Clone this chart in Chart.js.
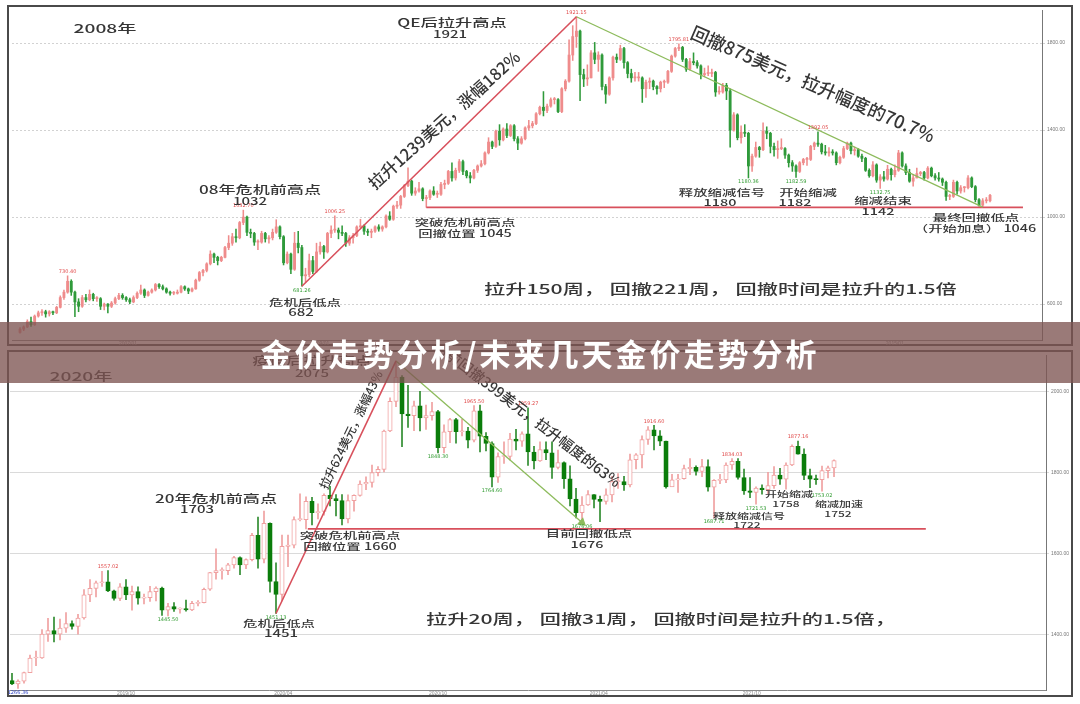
<!DOCTYPE html>
<html>
<head>
<meta charset="utf-8">
<script src="https://cdn.jsdelivr.net/npm/chart.js"></script>
<style>
  body { margin: 0; width: 1080px; height: 704px; background: #fff; position: relative; overflow: hidden; }
  .frame { position: absolute; border: 2px solid #4a4a4a; box-sizing: border-box; }
  canvas { position: absolute; left: 0; }
  .banner {
    position: absolute; left: 0; top: 322px; width: 1080px; height: 61px;
    background: rgba(125, 85, 82, 0.78); color: #fff;
    font: 700 31px "Noto Sans CJK SC"; letter-spacing: 3px;
    text-align: center; line-height: 61px; z-index: 5;
  }
</style>
</head>
<body>
<div class="frame" style="left:7px;top:5px;width:1066px;height:341px"></div>
<div class="frame" style="left:7px;top:350px;width:1066px;height:347px"></div>
<canvas id="top" width="1080" height="348" style="top:0"></canvas>
<canvas id="bottom" width="1080" height="350" style="top:350px"></canvas>
<div class="banner">金价走势分析/未来几天金价走势分析</div>

<script>
// 2005-2016 gold, two-week bars (open = previous close)
const TOP_FIRST_OPEN = 470;
const topClose = [485,495,520,505,545,560,565,555,565,560,
585,630,655,705,655,610,590,630,620,645,
625,625,590,600,590,605,625,640,630,620,
610,630,650,665,640,655,665,690,680,670,
655,650,650,655,680,670,660,670,710,745,
755,785,830,815,800,815,860,880,910,905,
975,1000,930,925,885,885,925,900,905,930,
955,910,790,830,760,880,860,730,735,800,
750,840,865,840,925,940,940,930,925,880,
905,915,955,960,935,930,935,955,945,955,
1005,990,1050,1055,1095,1145,1165,1110,1120,1130,
1085,1090,1120,1105,1105,1150,1155,1210,1180,1215,
1255,1210,1190,1180,1215,1235,1245,1295,1345,1325,
1395,1355,1405,1375,1420,1360,1340,1360,1410,1420,
1430,1475,1505,1490,1510,1540,1540,1485,1590,1625,
1745,1830,1855,1655,1635,1640,1755,1725,1745,1600,
1565,1640,1735,1725,1775,1710,1660,1640,1640,1640,
1590,1620,1625,1600,1590,1620,1620,1670,1740,1775,
1780,1725,1680,1715,1710,1695,1655,1660,1660,1665,
1575,1575,1605,1580,1400,1470,1365,1390,1385,1235,
1280,1320,1310,1395,1385,1325,1310,1315,1315,1285,
1250,1235,1210,1250,1265,1265,1325,1340,1335,1300,
1295,1300,1295,1250,1275,1315,1340,1305,1310,1280,
1270,1215,1190,1240,1170,1185,1175,1220,1195,1215,
1295,1235,1205,1165,1180,1200,1205,1180,1225,1190,
1180,1175,1160,1095,1095,1160,1120,1135,1135,1180,
1140,1080,1055,1075,1075,1100];
const topHigh = [492,500,528,540,550,568,575,572,570,568,
590,638,665,730,712,660,625,640,645,665,
650,635,630,605,602,612,632,650,648,635,
628,638,656,688,670,660,670,695,694,688,
675,660,658,665,685,684,674,675,715,750,
760,790,845,835,820,820,866,915,925,945,
980,1032,1005,945,930,895,935,930,915,945,
988,960,915,840,835,930,935,870,765,830,
820,880,885,870,930,960,1006,950,960,930,
915,925,960,990,965,945,945,960,965,960,
1010,1025,1055,1072,1100,1150,1227,1170,1135,1160,
1135,1100,1125,1140,1120,1160,1170,1215,1250,1225,
1265,1262,1215,1205,1220,1240,1260,1300,1365,1350,
1400,1425,1410,1430,1425,1425,1370,1370,1415,1445,
1440,1480,1510,1577,1520,1548,1550,1545,1595,1632,
1815,1880,1921,1860,1680,1700,1765,1803,1760,1750,
1610,1645,1740,1750,1790,1780,1715,1680,1665,1665,
1645,1630,1640,1630,1605,1625,1630,1675,1745,1780,
1796,1785,1730,1730,1755,1720,1700,1685,1695,1680,
1670,1600,1615,1615,1590,1480,1475,1420,1425,1390,
1290,1345,1325,1433,1415,1390,1340,1350,1360,1320,
1290,1260,1240,1255,1270,1275,1330,1345,1392,1340,
1330,1320,1310,1300,1280,1325,1345,1345,1322,1315,
1290,1275,1222,1255,1245,1195,1210,1238,1225,1240,
1307,1300,1245,1220,1195,1225,1210,1210,1232,1230,
1200,1205,1180,1165,1105,1170,1165,1145,1140,1191,
1185,1145,1085,1085,1090,1105];
const topLow = [466,478,492,498,502,540,548,540,545,552,
556,582,622,650,640,542,565,585,610,615,
615,612,575,573,560,584,600,620,622,612,
602,606,625,645,630,636,650,660,672,665,
650,641,643,646,652,663,648,656,668,705,
730,748,780,790,780,795,812,850,870,885,
900,965,915,905,870,850,880,885,880,895,
925,900,780,785,740,755,835,682,700,725,
740,745,830,810,835,905,930,900,915,865,
870,880,910,950,920,915,905,930,935,935,
950,985,985,1040,1040,1090,1140,1100,1100,1115,
1075,1045,1080,1100,1090,1100,1130,1150,1165,1170,
1205,1195,1180,1157,1175,1205,1230,1240,1290,1315,
1320,1330,1350,1365,1370,1350,1310,1335,1355,1400,
1410,1425,1470,1465,1480,1505,1520,1480,1480,1580,
1620,1720,1780,1535,1600,1605,1640,1705,1670,1585,
1523,1560,1630,1710,1720,1685,1640,1620,1625,1625,
1527,1550,1590,1585,1565,1575,1595,1615,1665,1735,
1765,1715,1670,1675,1700,1685,1635,1645,1650,1645,
1555,1565,1570,1540,1321,1395,1355,1340,1370,1180,
1210,1275,1275,1305,1360,1295,1280,1270,1310,1270,
1230,1210,1182,1205,1240,1238,1260,1310,1325,1290,
1285,1280,1285,1240,1245,1270,1310,1290,1285,1275,
1255,1210,1183,1185,1160,1132,1165,1170,1170,1185,
1210,1230,1195,1160,1142,1180,1190,1170,1175,1185,
1170,1165,1145,1077,1080,1090,1105,1110,1115,1130,
1135,1070,1050,1046,1065,1070];
const topPivots = [77, 152, 263];          // 682 low, 1921 high, 1046 low
const topSupport = { from: 111, to: 274, price: 1045 };
const topYTicks = [600, 1000, 1400, 1800];
const topXTickPos = [29.5, 82, 134.5, 186.5, 239];
const topXTickLabels = ['2007/01', '2009/01', '2011/01', '2013/01', '2015/01'];

// 2019-2021 gold, weekly bars
const BOTTOM_FIRST_OPEN = 1285;
const bottomClose = [1277,1284,1305,1341,1341,1400,1409,1400,1415,1426,
1419,1440,1497,1513,1527,1529,1507,1488,1517,1497,
1505,1489,1490,1505,1514,1459,1468,1462,1463,1460,
1476,1478,1511,1552,1557,1557,1571,1589,1571,1584,
1644,1585,1674,1530,1498,1617,1620,1683,1683,1728,
1700,1703,1743,1735,1730,1685,1730,1743,1771,1775,
1799,1807,1902,1975,2035,1944,1940,1964,1934,1940,
1950,1861,1900,1930,1900,1902,1879,1952,1889,1871,
1788,1839,1839,1882,1877,1895,1850,1828,1856,1848,
1812,1824,1784,1734,1700,1719,1745,1733,1728,1744,
1777,1777,1769,1831,1843,1881,1905,1890,1877,1764,
1781,1784,1809,1812,1802,1814,1763,1780,1781,1818,
1827,1787,1754,1750,1761,1757,1767,1793,1783,1818,
1864,1845,1792,1783,1782,1804,1811,1829];
const bottomHigh = [1303,1287,1306,1348,1358,1411,1439,1442,1437,1453,
1433,1449,1510,1535,1531,1555,1557,1509,1525,1535,
1519,1517,1499,1518,1517,1516,1476,1478,1465,1484,
1481,1483,1514,1553,1611,1564,1575,1592,1591,1586,
1649,1689,1704,1675,1576,1645,1645,1690,1747,1739,
1738,1722,1747,1765,1745,1745,1744,1744,1779,1789,
1818,1814,1904,1984,2075,2039,2015,1976,2000,1966,
1973,1953,1917,1933,1933,1931,1911,1965,1966,1898,
1875,1848,1875,1896,1906,1900,1959,1864,1875,1875,
1875,1855,1826,1816,1760,1740,1755,1745,1741,1759,
1790,1797,1790,1845,1846,1890,1913,1916,1903,1877,
1795,1795,1818,1834,1816,1832,1831,1782,1795,1823,
1834,1834,1808,1787,1764,1769,1800,1814,1810,1823,
1868,1877,1858,1808,1793,1815,1815,1831];
const bottomLow = [1275,1266,1279,1305,1322,1340,1382,1381,1386,1404,
1412,1400,1437,1480,1492,1518,1505,1484,1483,1485,
1459,1474,1475,1481,1482,1446,1445,1456,1452,1457,
1458,1470,1477,1508,1536,1536,1547,1563,1547,1562,
1581,1563,1576,1504,1451,1482,1567,1613,1680,1660,
1670,1685,1694,1717,1692,1670,1675,1704,1741,1757,
1763,1791,1801,1900,1962,1863,1911,1903,1902,1906,
1929,1848,1848,1873,1872,1890,1860,1875,1850,1853,
1764,1775,1822,1830,1855,1864,1817,1808,1827,1831,
1785,1808,1760,1717,1687,1676,1718,1712,1678,1721,
1727,1760,1755,1764,1808,1811,1869,1855,1866,1761,
1769,1750,1783,1794,1793,1789,1753,1687,1772,1774,
1807,1783,1745,1737,1721,1746,1747,1760,1770,1758,
1816,1845,1782,1762,1770,1753,1786,1789];
const bottomPivots = [44, 64, 95];        // 1451 low, 2075 high, 1676 low
const bottomSupport = { from: 49.3, to: 152.3, price: 1660 };
const bottomYTicks = [1400, 1600, 1800, 2000];
const bottomXTickPos = [19, 45.2, 71, 97.8, 123.3];
const bottomXTickLabels = ['2019/10', '2020/04', '2020/10', '2021/04', '2021/10'];

const RED = '#d8505c', GREEN = '#8dbb5c', TAGRED = '#e04848', TAGGREEN = '#2e9a2e';

function opensOf(first, closes) {
  return closes.map((c, i) => i === 0 ? first : closes[i - 1]);
}

function candleSets(opens, closes, highs, lows, st) {
  const up = closes.map((c, i) => c >= opens[i]);
  return [
    { type: 'bar', order: 2, grouped: false, barThickness: st.wick,
      data: lows.map((l, i) => ({ x: i, y: [l, highs[i]] })),
      backgroundColor: up.map(u => u ? st.upWick : st.downWick) },
    { type: 'bar', order: 1, grouped: false, barThickness: st.body, minBarLength: 1,
      borderSkipped: false, borderWidth: st.border,
      data: closes.map((c, i) => ({ x: i, y: [opens[i], c] })),
      backgroundColor: up.map(u => u ? st.upFill : st.downFill),
      borderColor: up.map(u => u ? st.upWick : st.downFill) }
  ];
}

function lineSet(points, color, width, extra) {
  return Object.assign({ type: 'line', order: 0, data: points, borderColor: color,
    borderWidth: width, pointRadius: 0, fill: false, tension: 0 }, extra || {});
}

function notesPlugin(items, tags) {
  return {
    id: 'notes',
    afterDatasetsDraw(chart) {
      const ctx = chart.ctx, xs = chart.scales.x, ys = chart.scales.y;
      tags.forEach(t => {
        ctx.save();
        ctx.font = '5px "DejaVu Sans"';
        ctx.fillStyle = t.color;
        ctx.textAlign = 'center';
        ctx.textBaseline = 'middle';
        ctx.fillText(t.text, xs.getPixelForValue(t.x), ys.getPixelForValue(t.y) + t.dy);
        ctx.restore();
      });
      items.forEach(n => {
        ctx.save();
        ctx.translate(n.x, n.y);
        ctx.rotate((n.angle || 0) * Math.PI / 180);
        ctx.scale(n.sx || 1, 1);
        ctx.font = '500 ' + (n.size || 9.6) + 'px "Noto Sans CJK SC"';
        ctx.fillStyle = '#363636';
        ctx.textAlign = n.align || 'center';
        ctx.textBaseline = 'middle';
        ctx.fillText(n.text, 0, 0);
        ctx.restore();
      });
    }
  };
}

function axes(cfg) {
  return {
    x: { type: 'linear', min: cfg.xMin, max: cfg.xMax, offset: false,
      grid: { display: false, drawTicks: false },
      border: { display: true, color: '#888' },
      afterBuildTicks: a => { a.ticks = cfg.xTicks.map(v => ({ value: v })); },
      afterFit: a => { a.height = cfg.xH; },
      ticks: { font: { size: 5 }, color: '#888', padding: 1, maxRotation: 0, autoSkip: false,
        callback: (v, i) => cfg.xLabels[i] } },
    y: { position: 'right', min: cfg.yMin, max: cfg.yMax,
      grid: { color: cfg.gridColor, tickLength: 3 },
      border: { display: true, color: '#777', dash: cfg.dash },
      afterBuildTicks: a => { a.ticks = cfg.yTicks.map(v => ({ value: v })); },
      afterFit: a => { a.width = cfg.yW; },
      ticks: { font: { size: 5 }, color: '#777', padding: 2, callback: v => v.toFixed(2) } }
  };
}

const baseOpts = {
  responsive: false, devicePixelRatio: 1, animation: false, events: [],
  plugins: { legend: { display: false }, tooltip: { enabled: false } }
};

// ---------- top chart ----------
const topOpen = opensOf(TOP_FIRST_OPEN, topClose);
const tp = topPivots;
const topNotes = [
  { text: '2008年', x: 105, y: 28, size: 12, sx: 1.6 },
  { text: 'QE后拉升高点', x: 452, y: 23, size: 11.5, sx: 1.5 },
  { text: '1921', x: 450, y: 34, size: 10, sx: 1.5 },
  { text: '08年危机前高点', x: 260, y: 190, size: 11.4, sx: 1.5 },
  { text: '1032', x: 250, y: 201, size: 10, sx: 1.5 },
  { text: '危机后低点', x: 305, y: 302, sx: 1.5 },
  { text: '682', x: 301, y: 312, size: 10, sx: 1.5 },
  { text: '突破危机前高点', x: 465, y: 222, sx: 1.5 },
  { text: '回撤位置 1045', x: 465, y: 233, sx: 1.5 },
  { text: '释放缩减信号', x: 722, y: 192, sx: 1.5 },
  { text: '1180', x: 720, y: 202, sx: 1.5 },
  { text: '开始缩减', x: 808, y: 192, sx: 1.5 },
  { text: '1182', x: 795, y: 202, sx: 1.5 },
  { text: '缩减结束', x: 883, y: 200, sx: 1.5 },
  { text: '1142', x: 878, y: 211, sx: 1.5 },
  { text: '最终回撤低点', x: 976, y: 217, sx: 1.5 },
  { text: '（开始加息） 1046', x: 975, y: 228, sx: 1.5 },
  { text: '拉升150周， 回撤221周， 回撤时间是拉升的1.5倍', x: 484, y: 289, size: 13.5, sx: 1.57, align: 'left' },
  { text: '拉升1239美元，涨幅182%', x: 444, y: 120, size: 16.5, angle: -41.9 },
  { text: '回撤875美元，拉升幅度的70.7%', x: 813, y: 84, size: 18, angle: 23.5 }
];
const topTags = [
  { x: 13, y: 730, text: '730.40', color: TAGRED, dy: -4 },
  { x: 61, y: 1032, text: '1032.70', color: TAGRED, dy: -4 },
  { x: 86, y: 1006, text: '1006.25', color: TAGRED, dy: -4 },
  { x: 77, y: 682, text: '681.26', color: TAGGREEN, dy: 4 },
  { x: 152, y: 1921, text: '1921.15', color: TAGRED, dy: -4 },
  { x: 180, y: 1796, text: '1795.81', color: TAGRED, dy: -4 },
  { x: 199, y: 1180, text: '1180.36', color: TAGGREEN, dy: 4 },
  { x: 212, y: 1182, text: '1182.59', color: TAGGREEN, dy: 4 },
  { x: 218, y: 1392, text: '1392.05', color: TAGRED, dy: -4 },
  { x: 235, y: 1132, text: '1132.75', color: TAGGREEN, dy: 4 }
];

new Chart(document.getElementById('top'), {
  type: 'bar',
  data: {
    datasets: [
      ...candleSets(topOpen, topClose, topHigh, topLow,
        { wick: 0.9, body: 2.2, border: 0, upWick: '#ef8c8c', downWick: '#2f9a3a',
          upFill: '#ef8c8c', downFill: '#2f9a3a' }),
      lineSet([{ x: tp[0], y: topLow[tp[0]] }, { x: tp[1], y: topHigh[tp[1]] }], RED, 1.6),
      lineSet([{ x: tp[1], y: topHigh[tp[1]] }, { x: tp[2], y: topLow[tp[2]] }], GREEN, 1.3),
      lineSet([{ x: topSupport.from, y: topSupport.price }, { x: topSupport.to, y: topSupport.price }], RED, 1.8)
    ]
  },
  options: Object.assign({}, baseOpts, {
    layout: { padding: { left: 12, right: 7, top: 10, bottom: 2 } },
    scales: axes({ xMin: -2.19, xMax: 279.2, xTicks: topXTickPos, xLabels: topXTickLabels, xH: 6,
      yMin: 435, yMax: 1952, yTicks: topYTicks, yW: 31, gridColor: '#d2d2d2', dash: [2, 2] })
  }),
  plugins: [notesPlugin(topNotes, topTags)]
});

// ---------- bottom chart ----------
const bottomOpen = opensOf(BOTTOM_FIRST_OPEN, bottomClose);
const bp = bottomPivots;
const bottomNotes = [
  { text: '2020年', x: 81, y: 26, size: 12, sx: 1.6 },
  { text: '疫情后拉升高点', x: 312, y: 11, size: 11.4, sx: 1.5 },
  { text: '2075', x: 312, y: 23, size: 10, sx: 1.5 },
  { text: '20年危机前高点', x: 216, y: 149, size: 11.4, sx: 1.5 },
  { text: '1703', x: 197, y: 159, size: 10, sx: 1.5 },
  { text: '危机后低点', x: 279, y: 273, sx: 1.5 },
  { text: '1451', x: 281, y: 283, size: 10, sx: 1.5 },
  { text: '突破危机前高点', x: 350, y: 185, sx: 1.5 },
  { text: '回撤位置 1660', x: 350, y: 196, sx: 1.5 },
  { text: '目前回撤低点', x: 589, y: 183, sx: 1.5 },
  { text: '1676', x: 587, y: 194, sx: 1.5 },
  { text: '开始缩减', x: 789, y: 144, size: 8, sx: 1.5 },
  { text: '1758', x: 786, y: 154, size: 8, sx: 1.5 },
  { text: '缩减加速', x: 839, y: 154, size: 8, sx: 1.5 },
  { text: '1752', x: 838, y: 164, size: 8, sx: 1.5 },
  { text: '释放缩减信号', x: 749, y: 166, size: 8, sx: 1.5 },
  { text: '1722', x: 747, y: 175, size: 8, sx: 1.5 },
  { text: '拉升20周， 回撤31周， 回撤时间是拉升的1.5倍，', x: 426, y: 269, size: 13.5, sx: 1.57, align: 'left' },
  { text: '拉升624美元，涨幅43%', x: 351, y: 80, size: 12, angle: -64.3 },
  { text: '目前回撤399美元，拉升幅度的63%', x: 528, y: 64, size: 14.5, angle: 37.5 }
];
const bottomTags = [
  { x: 1, y: 1266, text: '1266.36', color: '#3348c8', dy: 4 },
  { x: 16, y: 1557, text: '1557.02', color: TAGRED, dy: -4 },
  { x: 26, y: 1445, text: '1445.50', color: TAGGREEN, dy: 4 },
  { x: 44, y: 1451, text: '1451.13', color: TAGGREEN, dy: 4 },
  { x: 71, y: 1848, text: '1848.30', color: TAGGREEN, dy: 4 },
  { x: 77, y: 1965, text: '1965.50', color: TAGRED, dy: -4 },
  { x: 80, y: 1764, text: '1764.60', color: TAGGREEN, dy: 4 },
  { x: 86, y: 1959, text: '1959.27', color: TAGRED, dy: -4 },
  { x: 95, y: 1676, text: '1676.06', color: TAGGREEN, dy: 4 },
  { x: 107, y: 1916, text: '1916.60', color: TAGRED, dy: -4 },
  { x: 117, y: 1687, text: '1687.71', color: TAGGREEN, dy: 4 },
  { x: 120, y: 1834, text: '1834.03', color: TAGRED, dy: -4 },
  { x: 124, y: 1721, text: '1721.53', color: TAGGREEN, dy: 4 },
  { x: 131, y: 1877, text: '1877.16', color: TAGRED, dy: -4 },
  { x: 135, y: 1753, text: '1753.02', color: TAGGREEN, dy: 4 }
];

new Chart(document.getElementById('bottom'), {
  type: 'bar',
  data: {
    datasets: [
      ...candleSets(bottomOpen, bottomClose, bottomHigh, bottomLow,
        { wick: 1, body: 4.4, border: 1, upWick: '#f0a0a0', downWick: '#2e8b2e',
          upFill: '#ffffff', downFill: '#0b7d0b' }),
      lineSet([{ x: bp[0], y: bottomLow[bp[0]] }, { x: bp[1], y: bottomHigh[bp[1]] }], RED, 1.6),
      lineSet([{ x: bp[1], y: bottomHigh[bp[1]] }, { x: bp[2], y: bottomLow[bp[2]] }], GREEN, 1.3,
        { pointStyle: 'triangle', pointRadius: [0, 4], rotation: [0, 131],
          pointBackgroundColor: GREEN, pointBorderColor: GREEN }),
      lineSet([{ x: bottomSupport.from, y: bottomSupport.price }, { x: bottomSupport.to, y: bottomSupport.price }], RED, 1.8)
    ]
  },
  options: Object.assign({}, baseOpts, {
    layout: { padding: { left: 10, right: 7, top: 5, bottom: 3 } },
    scales: axes({ xMin: -0.333, xMax: 172.33, xTicks: bottomXTickPos, xLabels: bottomXTickLabels, xH: 7,
      yMin: 1262, yMax: 2089, yTicks: bottomYTicks, yW: 27, gridColor: '#dadada', dash: [] })
  }),
  plugins: [notesPlugin(bottomNotes, bottomTags)]
});
</script>
</body>
</html>
